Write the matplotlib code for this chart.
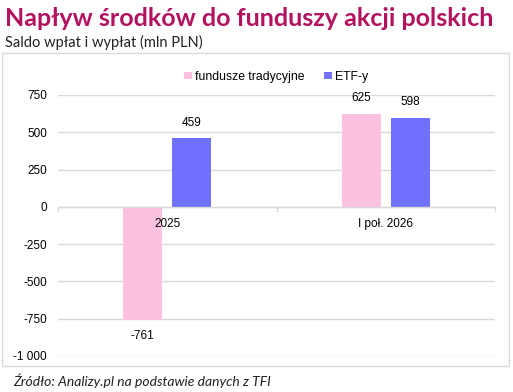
import numpy as np
import matplotlib.pyplot as plt
from matplotlib.patches import Rectangle

categories = ['2025', 'I poł. 2026']
tradycyjne = [-761, 625]
etf = [459, 598]
series_names = ['fundusze tradycyjne', 'ETF-y']
yticks = [-1000, -750, -500, -250, 0, 250, 500, 750]

PINK = '#fbc1df'
BLUE = '#7171ff'
TITLE = '#b3125f'
GRID = '#d9d9d9'

plt.rcParams['font.family'] = ['Liberation Sans', 'DejaVu Sans']

fig = plt.figure(figsize=(5.13, 3.92), dpi=100)
ax = fig.add_axes([58 / 513, 1 - 356 / 392, 437 / 513, 261 / 392])

x = np.arange(len(categories))
w = 0.18
off = 0.112
b1 = ax.bar(x - off, tradycyjne, w, color=PINK, label=series_names[0], zorder=3)
b2 = ax.bar(x + off, etf, w, color=BLUE, label=series_names[1], zorder=3)

for bars in (b1, b2):
    for r in bars:
        v = r.get_height()
        cx = r.get_x() + r.get_width() / 2
        if v >= 0:
            ax.annotate(f'{v:.0f}', (cx, v), xytext=(0, 7), textcoords='offset points',
                        ha='center', va='bottom', fontsize=8.5)
        else:
            ax.annotate(f'{v:.0f}', (cx, v), xytext=(0, -7), textcoords='offset points',
                        ha='center', va='top', fontsize=8.5)

ax.set_xlim(-0.5, len(categories) - 0.5)
ax.set_ylim(-1000, 750)
ax.set_yticks(yticks)
ax.set_yticklabels([f'{t:,}'.replace(',', ' ') for t in yticks], fontsize=8.5)
ax.tick_params(axis='y', length=0, pad=8)
ax.grid(axis='y', color=GRID, linewidth=1, zorder=0)

ax.set_xticks([])
for s in ['top', 'right', 'left', 'bottom']:
    ax.spines[s].set_visible(False)
ax.axhline(0, color=GRID, linewidth=1, zorder=4)
for b in [-0.5, 0.5, 1.5]:
    ax.plot([b, b], [0, -25], color=GRID, linewidth=1, zorder=4, clip_on=False)
for i, c in enumerate(categories):
    ax.annotate(c, (i, 0), xytext=(0, -8), textcoords='offset points',
                ha='center', va='top', fontsize=8.5, zorder=5)

ax.legend(loc='upper center', bbox_to_anchor=(0.5, 1.135), ncol=2, frameon=False,
          fontsize=8.8, handlelength=0.6, handleheight=0.6, handletextpad=0.3,
          columnspacing=1.6)

fig.patches.append(Rectangle((2 / 513, 1 - 366 / 392), 507 / 513, 313 / 392,
                             transform=fig.transFigure, fill=False,
                             edgecolor=GRID, linewidth=1))

fig.text(5 / 513, 1 - 18 / 392, 'Napływ środków do funduszy akcji polskich',
         fontsize=18, fontweight='bold', color=TITLE, family='Lato', va='center')
fig.text(5 / 513, 1 - 42 / 392, 'Saldo wpłat i wypłat (mln PLN)',
         fontsize=10.5, color='#222222', family='Lato', va='center')
fig.text(13 / 513, 1 - 381 / 392, 'Źródło: Analizy.pl na podstawie danych z TFI',
         fontsize=10, style='italic', color='#222222', family='Lato', va='center')

fig.savefig('out.png', dpi=100)
